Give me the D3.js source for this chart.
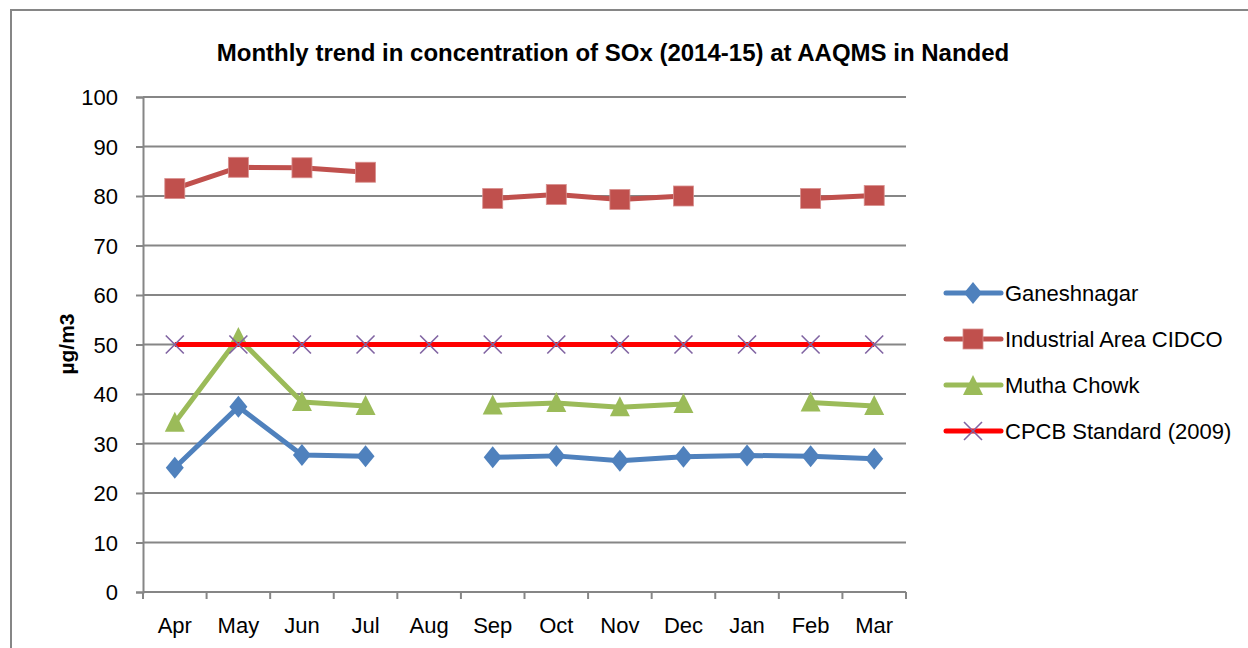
<!DOCTYPE html>
<html lang="en">
  <head>
    <meta charset="utf-8">
    <title>Monthly trend in concentration of SOx</title>
    <script src="https://d3js.org/d3.v7.js"></script>
    <style>
      body { margin: 0; background: #fff; overflow: hidden; }
      svg { display: block; }
      text { font-family: "Liberation Sans", Arial, sans-serif; fill: #000; }
    </style>
  </head>

  <body>
    <svg></svg>

  <script>

// Data (null = no reading that month)

  var months = ["Apr", "May", "Jun", "Jul", "Aug", "Sep", "Oct", "Nov", "Dec", "Jan", "Feb", "Mar"];
  var ganeshnagar = [25.1, 37.4, 27.7, 27.4, null, 27.2, 27.5, 26.5, 27.3, 27.6, 27.4, 26.9];
  var industrial  = [81.5, 85.8, 85.7, 84.8, null, 79.5, 80.3, 79.3, 80.0, null, 79.5, 80.1];
  var mutha       = [34.2, 51.3, 38.4, 37.6, null, 37.7, 38.2, 37.3, 38.0, null, 38.3, 37.6];
  var cpcb        = [50, 50, 50, 50, 50, 50, 50, 50, 50, 50, 50, 50];
  var yTicks = [0, 10, 20, 30, 40, 50, 60, 70, 80, 90, 100];

  var series = [
    {name: "Ganeshnagar", values: ganeshnagar, color: "#4F81BD", marker: "diamond"},
    {name: "Industrial Area CIDCO", values: industrial, color: "#C0504D", marker: "square"},
    {name: "Mutha Chowk", values: mutha, color: "#9BBB59", marker: "triangle"},
    {name: "CPCB Standard (2009)", values: cpcb, color: "#FF0000", marker: "cross"}
  ];

  var w = 1248;
  var h = 648;
  var margin = {top: 97, right: 342, bottom: 56, left: 143};
  var innerWidth = w - margin.left - margin.right;
  var innerHeight = h - margin.top - margin.bottom;

  var svg = d3.select("svg")
      .attr("width", w)
      .attr("height", h);

  // chart frame: only its left and top edges are in view
  svg.append("path")
      .attr("d", `M11,${h}V10H${w}`)
      .attr("fill", "none")
      .attr("stroke", "#868686")
      .attr("stroke-width", 2);

  svg.append("text")
      .attr("x", 613)
      .attr("y", 61)
      .attr("text-anchor", "middle")
      .style("font-size", "24px")
      .style("font-weight", "bold")
      .text("Monthly trend in concentration of SOx (2014-15) at AAQMS in Nanded");

  var xScale = d3.scaleBand()
      .domain(months)
      .range([0, innerWidth]);

  var yScale = d3.scaleLinear()
      .domain([0, 100])
      .range([innerHeight, 0]);

  var plot = svg.append("g")
      .attr("transform", `translate(${margin.left}, ${margin.top})`);

  // gridlines
  plot.append("g")
    .selectAll("line")
      .data(yTicks.filter(d => d > 0))
      .enter().append("line")
      .attr("x1", 0)
      .attr("x2", innerWidth)
      .attr("y1", d => yScale(d))
      .attr("y2", d => yScale(d))
      .attr("stroke", "#868686")
      .attr("stroke-width", 2);

  // y axis
  var yAxis = d3.axisLeft(yScale)
      .tickValues(yTicks)
      .tickSize(7)
      .tickPadding(18);

  var yG = plot.append("g").call(yAxis);
  yG.select(".domain").attr("stroke", "#868686").attr("stroke-width", 2);
  yG.selectAll(".tick line").attr("stroke", "#868686").attr("stroke-width", 2);
  yG.selectAll(".tick text")
      .style("font-size", "22px")
      .attr("font-family", null)
      .attr("dy", "0.36em");

  // x axis: labels in band centres, ticks on band edges
  var xAxis = d3.axisBottom(xScale)
      .tickSize(0)
      .tickPadding(25);

  var xG = plot.append("g")
      .attr("transform", `translate(0, ${innerHeight})`)
      .call(xAxis);
  xG.select(".domain").remove();
  xG.selectAll(".tick text")
      .style("font-size", "22px")
      .attr("font-family", null)
      .attr("dy", "0.71em");

  var edges = months.map(d => xScale(d)).concat([innerWidth]);
  xG.selectAll(".edge")
      .data(edges)
      .enter().append("line")
      .attr("class", "edge")
      .attr("x1", d => d)
      .attr("x2", d => d)
      .attr("y1", 0)
      .attr("y2", 7)
      .attr("stroke", "#868686")
      .attr("stroke-width", 2);
  xG.append("line")
      .attr("x1", 0)
      .attr("x2", innerWidth)
      .attr("stroke", "#868686")
      .attr("stroke-width", 2);

  // y axis title
  svg.append("text")
      .attr("transform", "translate(74, 344) rotate(-90)")
      .attr("text-anchor", "middle")
      .style("font-size", "21px")
      .style("font-weight", "bold")
      .text("µg/m3");

  // markers
  function drawMarker(sel, s) {
    if (s.marker === "diamond") {
      sel.append("path").attr("d", "M0,-11L9,0L0,11L-9,0Z").attr("fill", s.color);
    } else if (s.marker === "square") {
      sel.append("rect").attr("x", -10).attr("y", -10).attr("width", 20).attr("height", 20)
          .attr("fill", s.color).attr("stroke", "#D8908E").attr("stroke-width", 0.8);
    } else if (s.marker === "triangle") {
      sel.append("path").attr("d", "M0,-10L10,10L-10,10Z").attr("fill", s.color);
    } else {
      sel.append("path").attr("d", "M-9,-9L9,9M-9,9L9,-9")
          .attr("fill", "none").attr("stroke", "#8064A2").attr("stroke-width", 1.6);
    }
  }

  var line = d3.line()
      .defined(d => d != null)
      .x((d, i) => xScale(months[i]) + xScale.bandwidth() / 2)
      .y(d => yScale(d));

  series.forEach(function(s) {
    plot.append("path")
        .datum(s.values)
        .attr("d", line)
        .attr("fill", "none")
        .attr("stroke", s.color)
        .attr("stroke-width", 5)
        .attr("stroke-linejoin", "round");

    plot.append("g")
      .selectAll("g")
        .data(s.values.map((v, i) => ({v: v, m: months[i]})).filter(d => d.v != null))
        .enter().append("g")
        .attr("transform", d => `translate(${xScale(d.m) + xScale.bandwidth() / 2}, ${yScale(d.v) + (s.marker === "triangle" ? -1 : 0)})`)
        .each(function() { drawMarker(d3.select(this), s); });
  });

  // legend
  var legend = svg.append("g")
      .attr("transform", "translate(946, 293)");

  var item = legend.selectAll("g")
      .data(series)
      .enter().append("g")
      .attr("transform", (d, i) => `translate(0, ${i * 46})`);

  item.append("line")
      .attr("x1", 0)
      .attr("x2", 55)
      .attr("stroke", d => d.color)
      .attr("stroke-width", 5)
      .attr("stroke-linecap", "round");

  item.append("g")
      .attr("transform", "translate(27, 0)")
      .each(function(d) { drawMarker(d3.select(this), d); });

  item.append("text")
      .attr("x", 59)
      .attr("y", 8)
      .style("font-size", "22px")
      .text(d => d.name);

    </script>

  </body>

</html>
